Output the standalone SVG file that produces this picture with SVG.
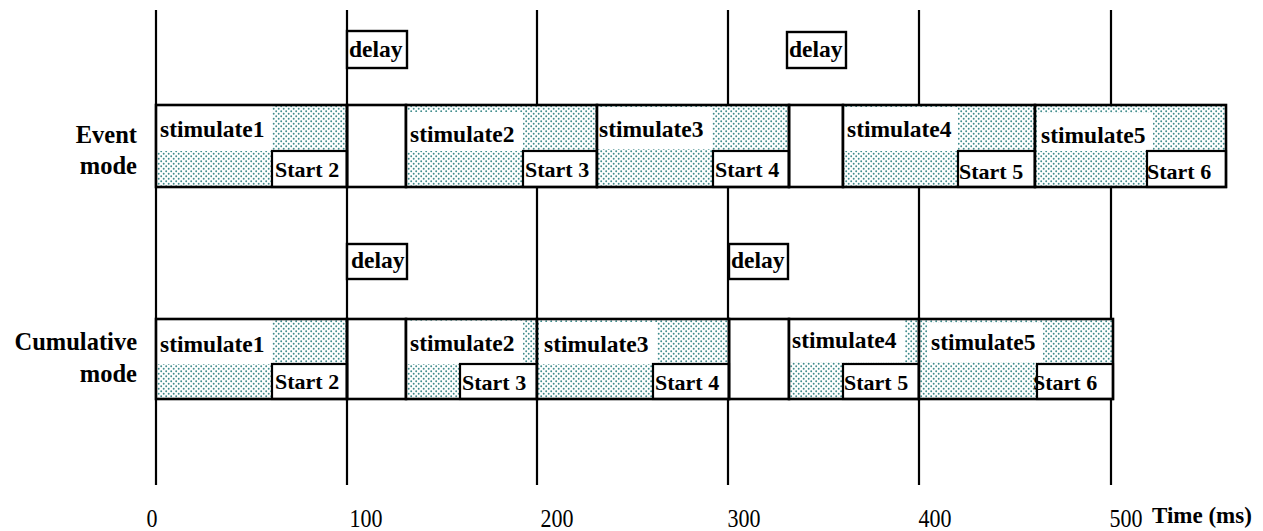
<svg xmlns="http://www.w3.org/2000/svg" width="1263" height="531" viewBox="0 0 1263 531">
<style>
.lbl{font-family:'Liberation Serif','Times New Roman',Times,serif;font-weight:bold;fill:#000}
.stim{font-size:23.5px}
.start{font-size:22px}
.dl{font-size:23.5px}
.row{font-size:24.5px}
.ax{font-family:'Liberation Serif','Times New Roman',Times,serif;font-size:25px;fill:#000}
.grid{stroke:#000;stroke-width:2.2}
.blk{fill:none;stroke:#000;stroke-width:2.6}
.sbox{fill:#fff;stroke:#000;stroke-width:2.2}
.wh{fill:#fff}
.pat{fill:url(#dots)}
.dbox{fill:#fff;stroke:#000;stroke-width:2.4}
</style>
<defs>
<pattern id="dots" width="5" height="5" patternUnits="userSpaceOnUse">
<rect width="5" height="5" fill="#fff"/>
<circle cx="1.2" cy="1.2" r="0.95" fill="#3f8c8c"/>
<circle cx="3.7" cy="3.7" r="0.95" fill="#3f8c8c"/>
</pattern>
</defs>
<rect width="1263" height="531" fill="#fff"/>
<g id="connectors">
<line class="grid" x1="156" y1="10" x2="156" y2="485"/>
<line class="grid" x1="347" y1="10" x2="347" y2="485"/>
<line class="grid" x1="537" y1="10" x2="537" y2="485"/>
<line class="grid" x1="728" y1="10" x2="728" y2="485"/>
<line class="grid" x1="919" y1="10" x2="919" y2="485"/>
<line class="grid" x1="1111" y1="10" x2="1111" y2="485"/>
</g>
<g id="row-labels">
<text class="lbl row" x="137" y="143" text-anchor="end">Event</text>
<text class="lbl row" x="137" y="174" text-anchor="end">mode</text>
<text class="lbl row" x="137" y="350" text-anchor="end">Cumulative</text>
<text class="lbl row" x="137" y="382" text-anchor="end">mode</text>
</g>
<g id="event-delay-label-1"><rect class="dbox" x="347" y="31" width="60" height="37"/><text class="lbl dl" x="349" y="57">delay</text></g>
<g id="event-delay-label-2"><rect class="dbox" x="787" y="32" width="59" height="36"/><text class="lbl dl" x="789" y="57">delay</text></g>
<g id="cum-delay-label-1"><rect class="dbox" x="347" y="244" width="60" height="35"/><text class="lbl dl" x="351" y="268">delay</text></g>
<g id="cum-delay-label-2"><rect class="dbox" x="729" y="244" width="59" height="35"/><text class="lbl dl" x="731" y="268">delay</text></g>
<g id="event-stim1">
<rect class="pat" x="156" y="105" width="191" height="82"/>
<rect class="wh" x="156" y="105" width="116" height="46"/>
<rect class="sbox" x="272" y="151" width="75" height="36"/>
<rect class="blk" x="156" y="105" width="191" height="82"/>
<text class="lbl stim" x="160" y="137">stimulate1</text>
<text class="lbl start" x="275" y="177">Start 2</text>
</g>
<g id="event-delay-1"><rect class="blk" x="347" y="105" width="59" height="82" fill="#fff"/></g>
<g id="event-stim2">
<rect class="pat" x="406" y="105" width="191" height="82"/>
<rect class="wh" x="406" y="112" width="117" height="39"/>
<rect class="sbox" x="523" y="151" width="74" height="36"/>
<rect class="blk" x="406" y="105" width="191" height="82"/>
<text class="lbl stim" x="410" y="142">stimulate2</text>
<text class="lbl start" x="525" y="177">Start 3</text>
</g>
<g id="event-stim3">
<rect class="pat" x="597" y="105" width="192" height="82"/>
<rect class="wh" x="597" y="107" width="115" height="42"/>
<rect class="sbox" x="713" y="151" width="76" height="36"/>
<rect class="blk" x="597" y="105" width="192" height="82"/>
<text class="lbl stim" x="599" y="137">stimulate3</text>
<text class="lbl start" x="715" y="177">Start 4</text>
</g>
<g id="event-delay-2"><rect class="blk" x="789" y="105" width="54" height="82" fill="#fff"/></g>
<g id="event-stim4">
<rect class="pat" x="843" y="105" width="192" height="82"/>
<rect class="wh" x="843" y="107" width="115" height="44"/>
<rect class="sbox" x="958" y="151" width="77" height="36"/>
<rect class="blk" x="843" y="105" width="192" height="82"/>
<text class="lbl stim" x="847" y="137">stimulate4</text>
<text class="lbl start" x="959" y="179">Start 5</text>
</g>
<g id="event-stim5">
<rect class="pat" x="1035" y="105" width="191" height="82"/>
<rect class="wh" x="1037" y="113" width="116" height="38"/>
<rect class="sbox" x="1147" y="151" width="79" height="36"/>
<rect class="blk" x="1035" y="105" width="191" height="82"/>
<text class="lbl stim" x="1041" y="143">stimulate5</text>
<text class="lbl start" x="1147" y="179">Start 6</text>
</g>
<g id="cum-stim1">
<rect class="pat" x="156" y="319" width="191" height="80"/>
<rect class="wh" x="156" y="319" width="116" height="45"/>
<rect class="sbox" x="272" y="364" width="75" height="35"/>
<rect class="blk" x="156" y="319" width="191" height="80"/>
<text class="lbl stim" x="160" y="352">stimulate1</text>
<text class="lbl start" x="275" y="389">Start 2</text>
</g>
<g id="cum-delay-1"><rect class="blk" x="347" y="319" width="59" height="80" fill="#fff"/></g>
<g id="cum-stim2">
<rect class="pat" x="406" y="319" width="131" height="80"/>
<rect class="wh" x="406" y="321" width="117" height="43"/>
<rect class="sbox" x="460" y="364" width="77" height="35"/>
<rect class="blk" x="406" y="319" width="131" height="80"/>
<text class="lbl stim" x="410" y="351">stimulate2</text>
<text class="lbl start" x="462" y="390">Start 3</text>
</g>
<g id="cum-stim3">
<rect class="pat" x="537" y="319" width="192" height="80"/>
<rect class="wh" x="539" y="322" width="118" height="42"/>
<rect class="sbox" x="653" y="364" width="76" height="35"/>
<rect class="blk" x="537" y="319" width="192" height="80"/>
<text class="lbl stim" x="544" y="352">stimulate3</text>
<text class="lbl start" x="655" y="390">Start 4</text>
</g>
<g id="cum-delay-2"><rect class="blk" x="729" y="319" width="60" height="80" fill="#fff"/></g>
<g id="cum-stim4">
<rect class="pat" x="789" y="319" width="130" height="80"/>
<rect class="wh" x="790" y="320" width="115" height="42"/>
<rect class="sbox" x="843" y="364" width="76" height="35"/>
<rect class="blk" x="789" y="319" width="130" height="80"/>
<text class="lbl stim" x="792" y="348">stimulate4</text>
<text class="lbl start" x="844" y="390">Start 5</text>
</g>
<g id="cum-stim5">
<rect class="pat" x="919" y="319" width="194" height="80"/>
<rect class="wh" x="927" y="323" width="116" height="39"/>
<rect class="sbox" x="1037" y="364" width="76" height="35"/>
<rect class="blk" x="919" y="319" width="194" height="80"/>
<text class="lbl stim" x="931" y="350">stimulate5</text>
<text class="lbl start" x="1033" y="390">Start 6</text>
</g>
<g id="axis">
<text class="ax" x="152" y="527" text-anchor="middle" textLength="11" lengthAdjust="spacingAndGlyphs">0</text>
<text class="ax" x="366" y="527" text-anchor="middle" textLength="33" lengthAdjust="spacingAndGlyphs">100</text>
<text class="ax" x="557" y="527" text-anchor="middle" textLength="33" lengthAdjust="spacingAndGlyphs">200</text>
<text class="ax" x="744" y="527" text-anchor="middle" textLength="33" lengthAdjust="spacingAndGlyphs">300</text>
<text class="ax" x="935" y="527" text-anchor="middle" textLength="33" lengthAdjust="spacingAndGlyphs">400</text>
<text class="ax" x="1126" y="527" text-anchor="middle" textLength="33" lengthAdjust="spacingAndGlyphs">500</text>
<text class="lbl" x="1152" y="523" font-size="23">Time (ms)</text>
</g>
</svg>
